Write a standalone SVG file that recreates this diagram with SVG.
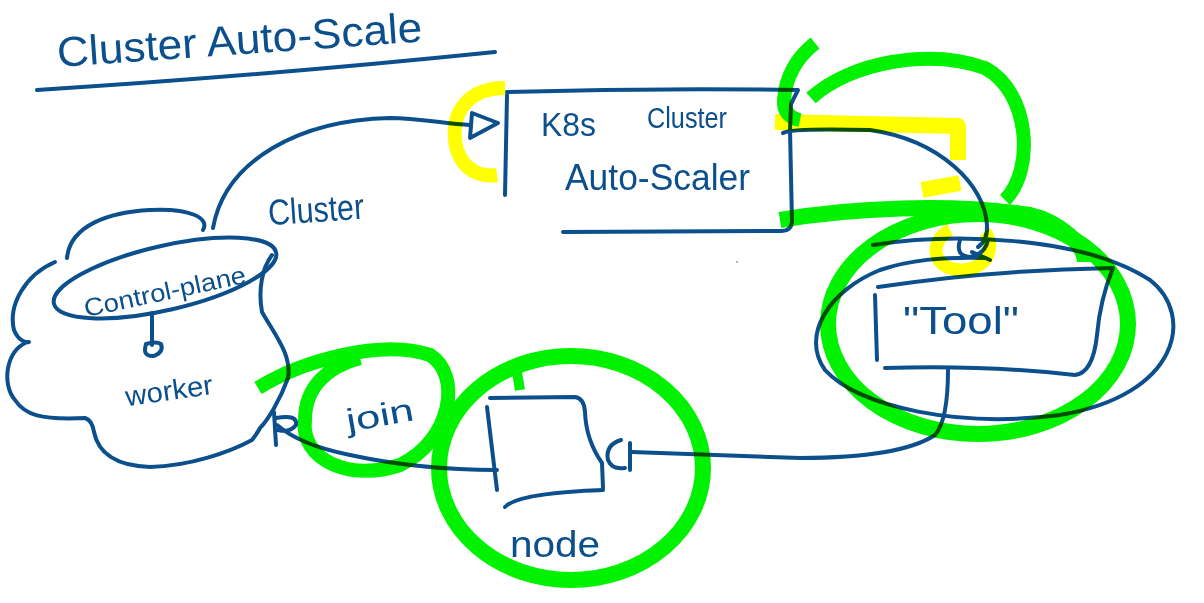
<svg xmlns="http://www.w3.org/2000/svg" width="1204" height="603" viewBox="0 0 1204 603">
<style>
.ink{fill:none;stroke:#0b4f8c;stroke-width:4;stroke-linecap:round;stroke-linejoin:round}
.txt{fill:#0b4f8c;font-family:"Liberation Sans",Arial,sans-serif}
.hl{mix-blend-mode:multiply}
.g{fill:none;stroke:#00f200;stroke-linecap:butt;stroke-linejoin:round}
.y{fill:none;stroke:#ffff00;stroke-linecap:butt;stroke-linejoin:round}
</style>
<rect width="1204" height="603" fill="#ffffff"/>
<g id="title">
<text class="txt" x="58" y="67" font-size="42" textLength="366" lengthAdjust="spacingAndGlyphs" transform="rotate(-4 58 67)">Cluster Auto-Scale</text>
<path class="ink" d="M37,90 Q260,76 495,52"/>
</g>
<g id="k8s-autoscaler">
<path class="ink" d="M507,95 L505,195"/>
<path class="ink" d="M507,92 Q650,88 798,90 L791,104 L790,130 L792,222 Q791,231 782,231 L563,232"/>
<text class="txt" x="541" y="136" font-size="34" textLength="55" lengthAdjust="spacingAndGlyphs">K8s</text>
<text class="txt" x="647" y="128" font-size="30" textLength="80" lengthAdjust="spacingAndGlyphs">Cluster</text>
<text class="txt" x="565" y="190" font-size="36" textLength="185" lengthAdjust="spacingAndGlyphs">Auto-Scaler</text>
</g>
<g id="cluster-label">
<text class="txt" x="268" y="222" font-size="36" textLength="96" lengthAdjust="spacingAndGlyphs" transform="rotate(-4 316 210)">Cluster</text>
</g>
<g id="control-plane">
<path class="ink" d="M67,258 C 70,225 110,212 150,210 C 190,208 210,218 203,230"/>
<path class="ink" d="M55,262 C 25,275 8,305 14,330 C 18,340 25,343 29,342"/>
<path class="ink" d="M27,342 C 5,352 2,385 15,400 C 25,415 40,420 85,418 Q92,420 94,432 C 98,452 115,466 150,467 C 190,466 230,452 252,440 Q258,432 260,428 C 268,420 280,400 288,378 C 292,355 275,335 262,312 C 258,290 262,268 272,255"/>
<ellipse class="ink" cx="165" cy="278" rx="114" ry="32" transform="rotate(-13 165 278)"/>
<text class="txt" x="82" y="300" font-size="25" textLength="165" lengthAdjust="spacingAndGlyphs" transform="rotate(-12 165 290)">Control-plane</text>
<path class="ink" d="M152,313 L152,345"/>
<path class="ink" d="M146,344 Q142,357 154,356 Q164,352 161,344 Q156,341 146,344"/>
<text class="txt" x="125" y="400" font-size="28" textLength="88" lengthAdjust="spacingAndGlyphs" transform="rotate(-8 170 390)">worker</text>
</g>
<g id="tool">
<path class="ink" d="M873,245 C 950,233 1080,235 1150,280 C 1195,315 1180,395 1060,415 C 960,428 860,408 825,370 C 800,335 830,290 880,270 C 910,260 940,257 985,258"/>
<path class="ink" d="M875,295 L877,360"/>
<path class="ink" d="M878,287 Q990,270 1113,268 Q1100,300 1097,335 Q1093,373 1075,375 Q990,365 885,368"/>
<text class="txt" x="903" y="334" font-size="38" textLength="116" lengthAdjust="spacingAndGlyphs">"Tool"</text>
</g>
<g id="node">
<path class="ink" d="M487,407 L497,490"/>
<path class="ink" d="M490,398 L575,397 Q584,398 585,412 Q586,440 602,463 L603,488"/>
<path class="ink" d="M505,507 Q518,493 603,490"/>
<text class="txt" x="510" y="557" font-size="36" textLength="90" lengthAdjust="spacingAndGlyphs">node</text>
</g>
<g id="join-label">
<text class="txt" x="345" y="426" font-size="32" textLength="68" lengthAdjust="spacingAndGlyphs" transform="rotate(-10 380 410)">join</text>
</g>
<g id="connectors">
<path class="ink" d="M213,228 C 225,160 300,120 390,118 C 420,118 445,124 470,125"/>
<path class="ink" d="M472,113 L470,138 L498,123 Z"/>
<path class="ink" d="M783,133 Q790,128 870,130 C 940,140 985,185 987,225 Q988,240 978,247"/>
<path class="ink" d="M960,240 Q955,256 970,257 Q985,254 988,240 M972,252 L990,260"/>
<path class="ink" d="M948,370 Q948,420 935,435 Q900,458 800,458 L632,452"/>
<path class="ink" d="M621,440 Q605,445 608,460 Q612,470 625,468 M630,443 L630,470"/>
<path class="ink" d="M497,470 Q420,470 350,455 Q300,445 277,425"/>
<path class="ink" d="M274,412 L276,445 M276,418 Q298,414 296,425 Q290,433 278,430"/>
</g>
<circle cx="737" cy="262" r="1" fill="#9a9a9a"/>
<g id="highlights" class="hl">
<path class="y" stroke-width="14" d="M505,88 C 470,88 452,110 455,140 C 458,165 475,178 497,175"/>
<path class="y" stroke-width="16" d="M775,122 L958,126 L958,160"/>
<path class="y" stroke-width="16" d="M922,190 L960,183"/>
<path class="y" stroke-width="13" d="M950,230 C 930,240 930,268 960,270 C 990,270 995,245 985,232"/>
<path class="g" stroke-width="14" d="M815,43 C 800,55 786,72 784,100 C 783,112 790,118 800,120"/>
<path class="g" stroke-width="14" d="M811,98 C 850,62 930,48 985,68 C 1030,92 1035,170 1005,200"/>
<path class="g" stroke-width="16" d="M780,220 C 850,208 950,203 1030,215 C 1060,222 1085,245 1085,262"/>
<ellipse class="g" stroke-width="16" cx="978" cy="324" rx="150" ry="110"/>
<path class="g" stroke-width="14" d="M258,388 C 300,362 380,338 430,355 C 462,375 452,440 400,465 C 350,482 300,460 305,420 C 305,385 330,366 360,358"/>
<ellipse class="g" stroke-width="16" cx="571" cy="468" rx="132" ry="112"/>
<path class="g" stroke-width="10" d="M517,372 L520,390"/>
</g>
</svg>
